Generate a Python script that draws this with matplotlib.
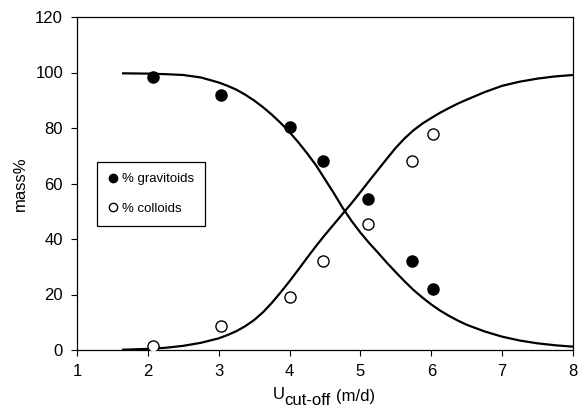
import matplotlib
matplotlib.use('Agg')
import matplotlib.pyplot as plt

plt.rcParams['font.family'] = ['Liberation Sans', 'DejaVu Sans']

# measured points
u_meas = [2.07, 3.03, 4.00, 4.47, 5.10, 5.73, 6.03]
gravitoids = [98.5, 92.0, 80.5, 68.0, 54.5, 32.0, 22.0]
colloids = [1.5, 8.5, 19.0, 32.0, 45.5, 68.0, 78.0]

# fitted curves
u_fit = [1.65, 2.0, 2.25, 2.5, 2.75, 3.0, 3.125, 3.25, 3.375, 3.5, 3.625, 3.75, 3.875,
         4.0, 4.125, 4.25, 4.375, 4.5, 4.625, 4.75, 4.875, 5.0, 5.125, 5.25, 5.375,
         5.5, 5.625, 5.75, 5.875, 6.0, 6.125, 6.25, 6.375, 6.5, 6.75, 7.0, 7.25,
         7.5, 7.75, 8.0]
grav_fit = [99.7, 99.6, 99.4, 99.1, 98.2, 96.4, 95.2, 93.8, 92.0, 89.9, 87.5, 84.8, 81.8,
            78.5, 74.8, 70.8, 66.5, 61.5, 56.5, 51.2, 46.5, 42.3, 38.5, 35.0, 31.4,
            28.0, 24.7, 21.6, 18.9, 16.4, 14.2, 12.3, 10.6, 9.1, 6.7, 4.8, 3.4,
            2.4, 1.7, 1.2]
coll_fit = [0.1, 0.4, 0.8, 1.5, 2.6, 4.2, 5.4, 6.8, 8.6, 10.8, 13.6, 17.0, 20.8,
            24.8, 29.0, 33.3, 37.5, 41.5, 45.3, 49.1, 52.9, 56.9, 61.0, 65.0, 69.0,
            72.9, 76.3, 79.2, 81.6, 83.6, 85.5, 87.2, 88.8, 90.2, 92.9, 95.2, 96.7,
            97.8, 98.6, 99.1]

fig = plt.figure(figsize=(5.79, 4.07), dpi=100)
ax = fig.add_axes([77/579, 57/407, 496/579, 333/407])

ax.plot(u_fit, grav_fit, color='black', lw=1.6, zorder=2)
ax.plot(u_fit, coll_fit, color='black', lw=1.6, zorder=2)
ax.plot(u_meas, gravitoids, 'o', color='black', ms=8, label='% gravitoids', zorder=3)
ax.plot(u_meas, colloids, 'o', mfc='white', mec='black', mew=1.0, ms=8,
        label='% colloids', zorder=3)

ax.set_xlim(1, 8)
ax.set_ylim(0, 120)
ax.set_xticks(range(1, 9))
ax.set_yticks(range(0, 121, 20))
ax.tick_params(direction='out', length=4, width=0.8, labelsize=12, pad=6, color='black')
for s in ax.spines.values():
    s.set_linewidth(0.9)

ax.set_ylabel('mass%', fontsize=12, labelpad=5)

# x label built from pieces: U, subscript, units
fig.text(273/579, (407-399)/407, 'U', fontsize=12, va='baseline')
fig.text(284/579, (407-405)/407, 'cut-off', fontsize=12, va='baseline')
fig.text(336/579, (407-401)/407, '(m/d)', fontsize=12, va='baseline')

leg = ax.legend(loc='upper left', bbox_to_anchor=(20/496, (350-162)/333), borderaxespad=0,
                fontsize=9.5, markerscale=0.75, handlelength=0.7, handletextpad=0.35,
                labelspacing=1.3, borderpad=0.85, fancybox=False, framealpha=1,
                edgecolor='black')
leg.get_frame().set_linewidth(0.9)

fig.savefig('out.png', dpi=100)
